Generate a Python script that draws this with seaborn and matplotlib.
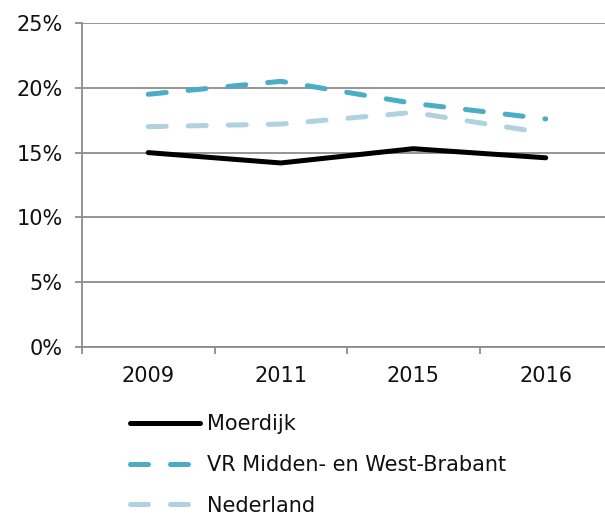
import matplotlib
matplotlib.use("Agg")
import matplotlib.pyplot as plt
import seaborn as sns
import pandas as pd
from matplotlib.lines import Line2D
from matplotlib.ticker import FixedLocator

years = ["2009", "2011", "2015", "2016"]
moerdijk = [15.0, 14.2, 15.3, 14.6]
vr_mwb = [19.5, 20.5, 18.8, 17.6]
nederland = [17.0, 17.2, 18.1, 16.5]
series_names = ["Moerdijk", "VR Midden- en West-Brabant", "Nederland"]
colors = ["#000000", "#4BACC6", "#AED3DE"]

sns.set_theme(style="white")
plt.rcParams["font.family"] = ["DejaVu Sans"]

fs = 15
fig = plt.figure(figsize=(6.05, 5.15), dpi=100)
W, H = 605, 515
ax = fig.add_axes([82 / W, 1 - 347 / H, (605 - 82) / W, (347 - 23) / H])

pos = list(range(len(years)))
lw = 3.6
dash = (3.6, 4.4)
handles = []
for name, vals, col in zip(series_names, [moerdijk, vr_mwb, nederland], colors):
    df = pd.DataFrame({"x": pos, "y": vals})
    sns.lineplot(data=df, x="x", y="y", ax=ax, color=col, lw=lw, legend=False)
    ln = ax.lines[-1]
    ln.set_solid_capstyle("round")
    ln.set_dash_capstyle("round")
    if name != "Moerdijk":
        ln.set_dashes(dash)
    h = Line2D([0], [0], color=col, lw=lw, solid_capstyle="round", dash_capstyle="round")
    if name != "Moerdijk":
        h.set_dashes(dash)
    handles.append(h)

ax.set_ylim(0, 25)
ax.set_xlim(-0.5, -0.5 + 523 / 132.5)
ax.set_yticks([0, 5, 10, 15, 20, 25])
ax.set_yticklabels([f"{v}%" for v in [0, 5, 10, 15, 20, 25]])
ax.set_xticks(pos)
ax.set_xticklabels(years)
ax.xaxis.set_minor_locator(FixedLocator([-0.5, 0.5, 1.5, 2.5, 3.5]))
ax.set_xlabel("")
ax.set_ylabel("")

gc = "#8C8C8C"
ax.grid(axis="y", color=gc, lw=1.3)
ax.set_axisbelow(True)
for s in ["top", "right"]:
    ax.spines[s].set_visible(False)
for s in ["left", "bottom"]:
    ax.spines[s].set_color(gc)
    ax.spines[s].set_linewidth(1.3)
ax.tick_params(axis="y", which="major", left=True, length=5, width=1.3, color=gc,
               labelsize=fs, labelcolor="#111111", pad=9)
ax.tick_params(axis="x", which="major", bottom=False, length=0, labelsize=fs,
               labelcolor="#111111", pad=14)
ax.tick_params(axis="x", which="minor", bottom=True, length=5, width=1.3, color=gc)

leg = fig.legend(handles, series_names, loc="upper left",
                 bbox_to_anchor=(130 / W, 1 - 414 / H), frameon=False,
                 fontsize=fs, handlelength=3.35, handletextpad=0.35,
                 labelspacing=1.0, borderaxespad=0, borderpad=0)
for t in leg.get_texts():
    t.set_color("#111111")

fig.savefig("out.png", dpi=100)
